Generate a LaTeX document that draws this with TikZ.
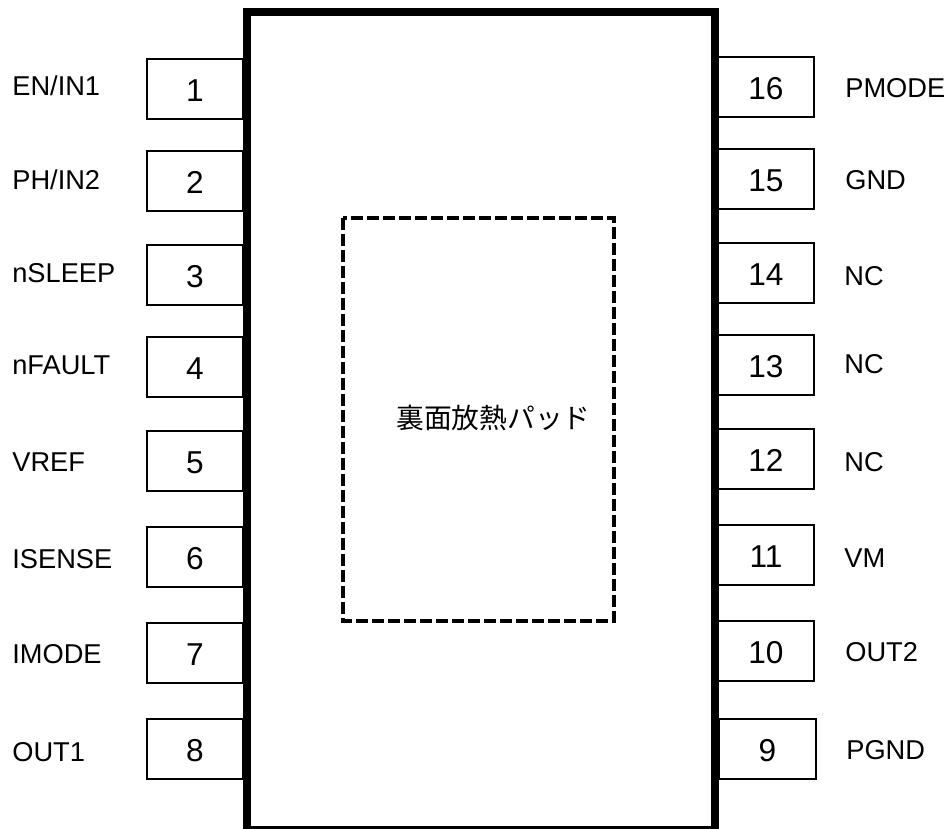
\documentclass[tikz,border=0pt]{standalone}
\usepackage{fontspec}
\setmainfont{Liberation Sans}
\newfontfamily\cjk{Noto Sans CJK JP}
\tikzset{
  pinbox/.style={draw,line width=0.034cm,minimum width=1.93cm,minimum height=1.2cm,inner sep=0pt,text height=0.49cm,text depth=0pt,font=\fontsize{18}{20}\selectfont},
  pinlabel/.style={anchor=base west,inner sep=0pt,font=\fontsize{15.5}{18}\selectfont},
}

\begin{document}
\begin{tikzpicture}
    \useasboundingbox (0,0) rectangle (18.98,16.58);

    % Left pins
    \node[pinbox] (pin1) at (3.90,14.80) {1};
    \node[pinbox] (pin2) at (3.90,12.96) {2};
    \node[pinbox] (pin3) at (3.90,11.08) {3};
    \node[pinbox] (pin4) at (3.90,9.24) {4};
    \node[pinbox] (pin5) at (3.90,7.36) {5};
    \node[pinbox] (pin6) at (3.90,5.44) {6};
    \node[pinbox] (pin7) at (3.90,3.52) {7};
    \node[pinbox] (pin8) at (3.90,1.60) {8};

    % Right pins
    \node[pinbox] (pin16) at (15.32,14.84) {16};
    \node[pinbox] (pin15) at (15.32,13.00) {15};
    \node[pinbox] (pin14) at (15.32,11.12) {14};
    \node[pinbox] (pin13) at (15.32,9.28) {13};
    \node[pinbox] (pin12) at (15.32,7.40) {12};
    \node[pinbox] (pin11) at (15.32,5.48) {11};
    \node[pinbox] (pin10) at (15.32,3.56) {10};
    \node[pinbox] (pin9) at (15.35,1.60) {9};

    % Package body
    \draw[line width=0.16cm,fill=white] (4.94,16.334) rectangle (14.30,-0.014);

    % Thermal pad
    \draw[line width=0.09cm,dash pattern=on 0.24cm off 0.08cm] (6.86,12.22) rectangle (12.28,4.16);
    \node[font=\fontsize{15.8}{18}\cjk] (pad) at (9.87,8.22) {裏面放熱パッド};

    % Left labels
    \node[pinlabel] (en) at (0.24,14.66) {EN/IN1};
    \node[pinlabel] (ph) at (0.24,12.79) {PH/IN2};
    \node[pinlabel] (sleep) at (0.24,10.92) {nSLEEP};
    \node[pinlabel] (fault) at (0.24,9.08) {nFAULT};
    \node[pinlabel] (vref) at (0.24,7.14) {VREF};
    \node[pinlabel] (isense) at (0.24,5.20) {ISENSE};
    \node[pinlabel] (imode) at (0.24,3.30) {IMODE};
    \node[pinlabel] (out1) at (0.24,1.35) {OUT1};

    % Right labels
    \node[pinlabel] (pmode) at (16.90,14.63) {PMODE};
    \node[pinlabel] (gnd) at (16.90,12.78) {GND};
    \node[pinlabel] (nc14) at (16.88,10.86) {NC};
    \node[pinlabel] (nc13) at (16.88,9.11) {NC};
    \node[pinlabel] (nc12) at (16.88,7.15) {NC};
    \node[pinlabel] (vm) at (16.88,5.23) {VM};
    \node[pinlabel] (out2) at (16.90,3.35) {OUT2};
    \node[pinlabel] (pgnd) at (16.92,1.38) {PGND};
\end{tikzpicture}
\end{document}
